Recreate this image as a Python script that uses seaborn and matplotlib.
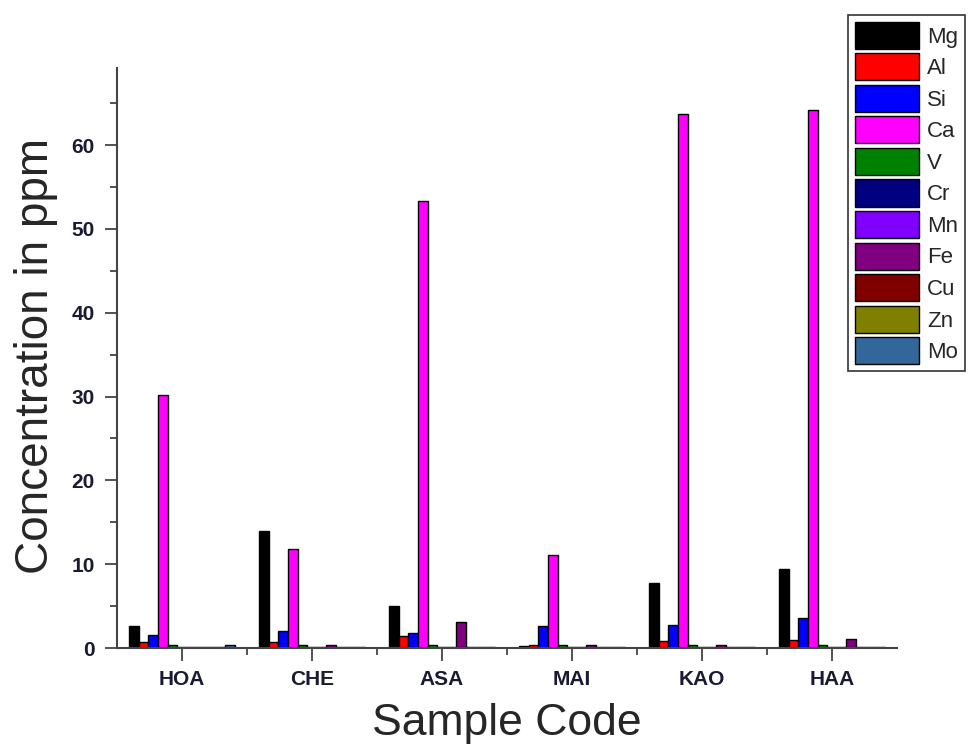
import matplotlib
matplotlib.use("Agg")
import matplotlib.pyplot as plt
import seaborn as sns
import pandas as pd
from matplotlib.ticker import MultipleLocator

samples = ["HOA", "CHE", "ASA", "MAI", "KAO", "HAA"]
elements = ["Mg", "Al", "Si", "Ca", "V", "Cr", "Mn", "Fe", "Cu", "Zn", "Mo"]
colors = ["#000000", "#ff0000", "#0000ff", "#ff00ff", "#008000", "#000080",
          "#8000ff", "#800080", "#800000", "#808000", "#336699"]

Mg = [2.6, 14.0, 5.0, 0.2, 7.8, 9.4]
Al = [0.7, 0.7, 1.4, 0.4, 0.8, 1.0]
Si = [1.6, 2.0, 1.8, 2.6, 2.8, 3.6]
Ca = [30.2, 11.8, 53.3, 11.1, 63.7, 64.2]
V  = [0.4, 0.4, 0.4, 0.4, 0.4, 0.4]
Cr = [0.1, 0.1, 0.1, 0.1, 0.1, 0.1]
Mn = [0.1, 0.1, 0.1, 0.1, 0.1, 0.1]
Fe = [0.1, 0.4, 3.1, 0.4, 0.4, 1.1]
Cu = [0.1, 0.1, 0.1, 0.1, 0.1, 0.1]
Zn = [0.1, 0.1, 0.1, 0.1, 0.1, 0.1]
Mo = [0.4, 0.1, 0.1, 0.1, 0.1, 0.1]

series = [Mg, Al, Si, Ca, V, Cr, Mn, Fe, Cu, Zn, Mo]
rows = []
for el, vals in zip(elements, series):
    for s, v in zip(samples, vals):
        rows.append({"Sample": s, "Element": el, "Value": v})
df = pd.DataFrame(rows)

sns.set_style("white")
fig = plt.figure(figsize=(9.76, 7.48), dpi=100)
ax = fig.add_axes([117/976, 1-648/748, (897-117)/976, (648-68)/748])

sns.barplot(data=df, x="Sample", y="Value", hue="Element", order=samples,
            hue_order=elements, palette=colors, width=0.81, edgecolor="black",
            linewidth=1.0, saturation=1, ax=ax, legend=True)

ax.set_xlim(-0.5, 5.5)
ax.set_ylim(0, 69.2)
ax.yaxis.set_major_locator(MultipleLocator(10))
ax.yaxis.set_minor_locator(MultipleLocator(5))
ax.set_xticks(range(6))
ax.set_xticks([0.5, 1.5, 2.5, 3.5, 4.5], minor=True)
for sp in ["top", "right"]:
    ax.spines[sp].set_visible(False)
for sp in ["left", "bottom"]:
    ax.spines[sp].set_color("#444444")
    ax.spines[sp].set_linewidth(1.5)
ax.tick_params(axis="both", which="major", direction="out", length=9, width=1.3,
               color="#444444", left=True, bottom=True, pad=7)
ax.tick_params(axis="both", which="minor", direction="out", length=5, width=1.3,
               color="#444444", left=True, bottom=True)
for lab in ax.get_xticklabels() + ax.get_yticklabels():
    lab.set_fontweight("bold")
    lab.set_fontsize(15)
    lab.set_color("#1a1a33")
    lab.set_family("Liberation Sans")

ax.set_xlabel("Sample Code", fontsize=32, family="Liberation Sans", labelpad=10)
ax.set_ylabel("Concentration in ppm", fontsize=33, family="Liberation Sans", labelpad=10)
ax.yaxis.label.set_position((0, 0.503))

leg = ax.legend(loc="upper left", bbox_to_anchor=(848/976, 1-15/748),
                bbox_transform=fig.transFigure, frameon=True, fancybox=False,
                prop={"family": "Liberation Sans", "size": 16},
                handlelength=2.9, handleheight=1.5, labelspacing=0.2,
                handletextpad=0.35, borderpad=0.3, borderaxespad=0)
leg.get_frame().set_edgecolor("black")
leg.get_frame().set_linewidth(1.2)

fig.savefig("out.png", dpi=100)
